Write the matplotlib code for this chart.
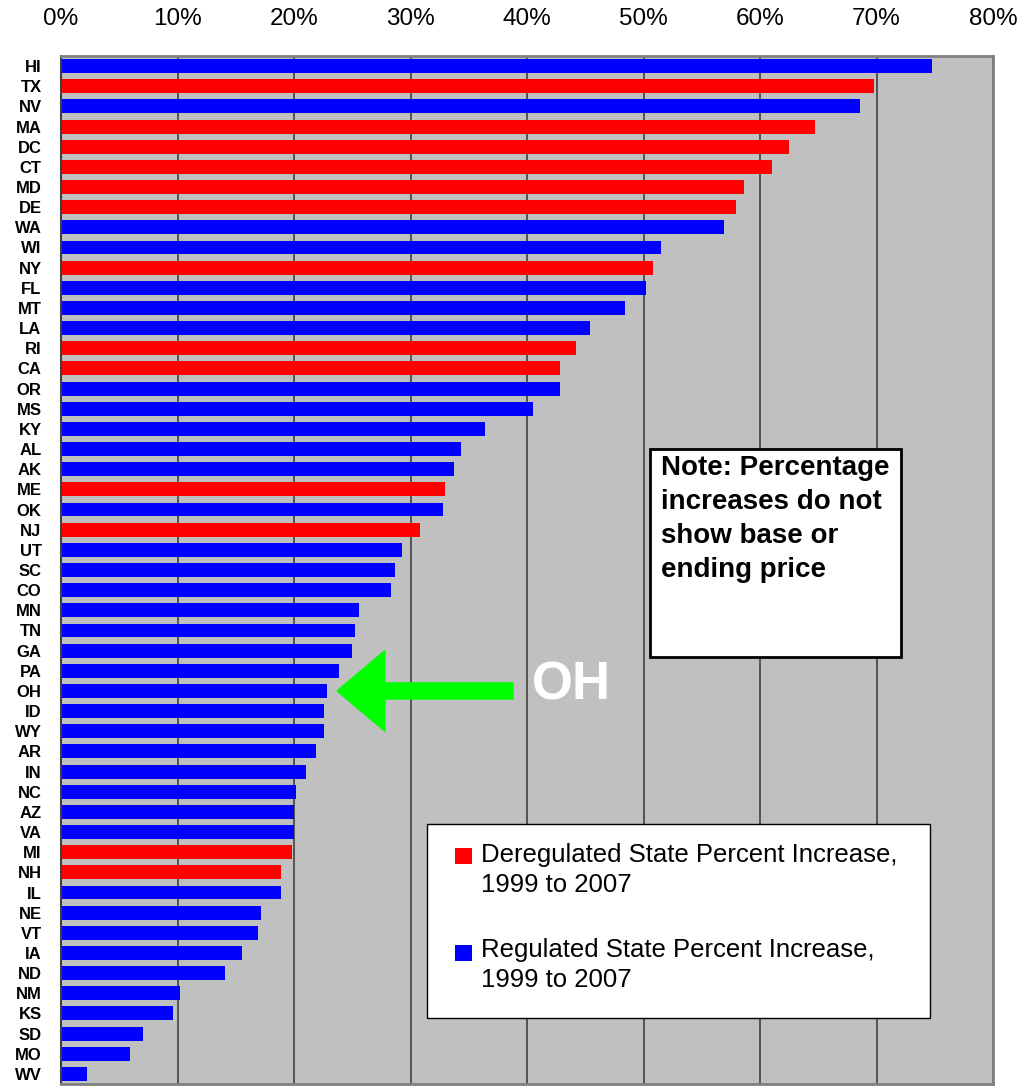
import matplotlib
matplotlib.use("Agg")
import matplotlib.pyplot as plt
from matplotlib.patches import Rectangle, FancyArrow
from matplotlib.ticker import FuncFormatter

plt.rcParams['font.family'] = ['Liberation Sans', 'DejaVu Sans']

# percent increase in electricity price, 1999 to 2007
states = ['HI', 'TX', 'NV', 'MA', 'DC', 'CT', 'MD', 'DE', 'WA', 'WI', 'NY', 'FL', 'MT',
          'LA', 'RI', 'CA', 'OR', 'MS', 'KY', 'AL', 'AK', 'ME', 'OK', 'NJ', 'UT', 'SC',
          'CO', 'MN', 'TN', 'GA', 'PA', 'OH', 'ID', 'WY', 'AR', 'IN', 'NC', 'AZ', 'VA',
          'MI', 'NH', 'IL', 'NE', 'VT', 'IA', 'ND', 'NM', 'KS', 'SD', 'MO', 'WV']
increase = [74.8, 69.8, 68.6, 64.7, 62.5, 61.0, 58.6, 57.9, 56.9, 51.5, 50.8, 50.2, 48.4,
            45.4, 44.2, 42.8, 42.8, 40.5, 36.4, 34.3, 33.7, 33.0, 32.8, 30.8, 29.3, 28.7,
            28.3, 25.6, 25.2, 25.0, 23.9, 22.8, 22.6, 22.6, 21.9, 21.0, 20.2, 20.0, 20.0,
            19.8, 18.9, 18.9, 17.2, 16.9, 15.5, 14.1, 10.2, 9.6, 7.0, 5.9, 2.2]
deregulated = ['TX', 'MA', 'DC', 'CT', 'MD', 'DE', 'NY', 'RI', 'CA', 'ME', 'NJ', 'MI', 'NH']

xticks = [0, 10, 20, 30, 40, 50, 60, 70, 80]

RED = '#FF0000'
BLUE = '#0000FF'

W, H = 1023, 1088
fig = plt.figure(figsize=(W / 100, H / 100), dpi=100)


def fx(x):
    return x / W


def fy(y):
    return 1 - y / H


ax = fig.add_axes([fx(61), fy(1084), fx(993) - fx(61), fy(56) - fy(1084)])
ax.set_facecolor('#C0C0C0')

colors = [RED if s in deregulated else BLUE for s in states]
ax.barh(range(len(states)), increase, height=0.69, color=colors, zorder=2)

ax.set_xlim(0, 80)
ax.set_ylim(len(states) - 0.5, -0.5)
ax.set_xticks(xticks)
ax.xaxis.set_major_formatter(FuncFormatter(lambda v, p: '%d%%' % v))
ax.xaxis.tick_top()
ax.set_yticks(range(len(states)))
ax.set_yticklabels(states, fontweight='bold')
ax.tick_params(axis='x', length=0, pad=19, labelsize=17.5)
ax.tick_params(axis='y', length=0, pad=14, labelsize=12)

ax.set_axisbelow(True)
ax.xaxis.grid(True, color='#404040', linewidth=1.2, zorder=1)

for side in ['top', 'right', 'bottom']:
    ax.spines[side].set_color('#808080')
    ax.spines[side].set_linewidth(2)
ax.spines['left'].set_color('#404040')
ax.spines['left'].set_linewidth(1.5)

# arrow pointing at Ohio
oh = states.index('OH')
ax.add_patch(FancyArrow(38.8, oh, -15.1, 0, width=0.8, head_width=4.0, head_length=4.1,
                        length_includes_head=True, color='#00FF00', zorder=4))
ax.text(40.4, oh - 0.25, 'OH', color='white', fontsize=38, fontweight='bold',
        va='center', ha='left', zorder=4)

# note box
fig.add_artist(Rectangle((fx(650), fy(657)), fx(901) - fx(650), fy(449) - fy(657),
                         transform=fig.transFigure, facecolor='white',
                         edgecolor='black', linewidth=2, zorder=5))
note = ['Note: Percentage', 'increases do not', 'show base or', 'ending price']
for i, line in enumerate(note):
    fig.text(fx(661), fy(475 + 34 * i), line, fontsize=20, fontweight='bold',
             va='baseline', ha='left', zorder=6)

# legend
fig.add_artist(Rectangle((fx(427), fy(1018)), fx(930) - fx(427), fy(824) - fy(1018),
                         transform=fig.transFigure, facecolor='white',
                         edgecolor='black', linewidth=1, zorder=5))
entries = [(RED, ['Deregulated State Percent Increase,', '1999 to 2007'], 848, 862),
           (BLUE, ['Regulated State Percent Increase,', '1999 to 2007'], 945, 957)]
for col, lines, sq_top, base in entries:
    fig.add_artist(Rectangle((fx(455), fy(sq_top + 16)), fx(472) - fx(455), fy(sq_top) - fy(sq_top + 16),
                             transform=fig.transFigure, facecolor=col,
                             edgecolor='none', zorder=6))
    for i, line in enumerate(lines):
        fig.text(fx(481), fy(base + 30 * i), line, fontsize=18.5, va='baseline', ha='left',
                 zorder=6)

fig.savefig('out.png', dpi=100)
